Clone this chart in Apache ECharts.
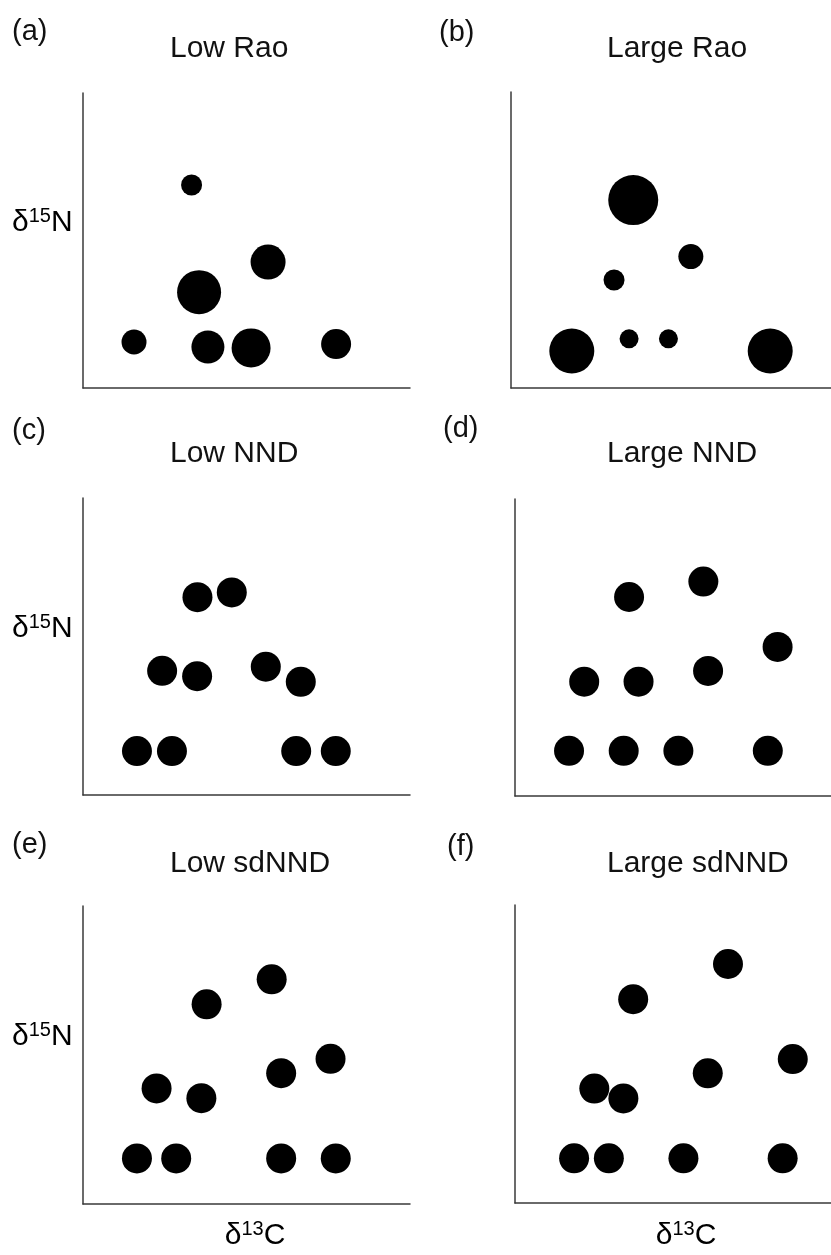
<!DOCTYPE html>
<html>
<head>
<meta charset="utf-8">
<script src="https://cdn.jsdelivr.net/npm/echarts@6/dist/echarts.min.js"></script>
<style>
html,body{margin:0;padding:0;background:#fff;}
#chart{width:831px;height:1255px;}
</style>
</head>
<body>
<div id="chart"></div>
<script>
// ---- data (axis units 0..10) ----
const panelTags = ['(a)', '(b)', '(c)', '(d)', '(e)', '(f)'];
const panelTitles = ['Low Rao', 'Large Rao', 'Low NND', 'Large NND', 'Low sdNND', 'Large sdNND'];
const yAxisName = ['δ', '15', 'N'];
const xAxisName = ['δ', '13', 'C'];

const aX = [3.32, 5.66, 3.55, 1.56, 3.82, 5.14, 7.74];
const aY = [6.88, 4.27, 3.25, 1.56, 1.39, 1.36, 1.49];
const aW = [21, 35, 44, 25, 33, 39, 30];

const bX = [3.82, 5.62, 3.22, 1.90, 3.69, 4.92, 8.10];
const bY = [6.35, 4.44, 3.65, 1.25, 1.66, 1.66, 1.25];
const bW = [50, 25, 21, 45, 19, 19, 45];

const cX = [3.50, 4.55, 2.42, 3.49, 5.59, 6.66, 1.65, 2.72, 6.52, 7.73];
const cY = [6.66, 6.82, 4.18, 4.00, 4.32, 3.81, 1.48, 1.48, 1.48, 1.48];
const cW = [30, 30, 30, 30, 30, 30, 30, 30, 30, 30];

const dX = [3.61, 5.96, 8.31, 2.19, 3.91, 6.11, 1.71, 3.44, 5.17, 8.00];
const dY = [6.70, 7.22, 5.02, 3.85, 3.85, 4.21, 1.52, 1.52, 1.52, 1.52];
const dW = [30, 30, 30, 30, 30, 30, 30, 30, 30, 30];

const eX = [3.78, 5.77, 7.57, 6.06, 2.25, 3.62, 1.65, 2.85, 6.06, 7.73];
const eY = [6.70, 7.54, 4.87, 4.39, 3.88, 3.55, 1.53, 1.53, 1.53, 1.53];
const eW = [30, 30, 30, 30, 30, 30, 30, 30, 30, 30];

const fX = [6.74, 3.74, 8.79, 6.10, 2.51, 3.43, 1.87, 2.97, 5.33, 8.47];
const fY = [8.02, 6.84, 4.83, 4.35, 3.84, 3.51, 1.50, 1.50, 1.50, 1.50];
const fW = [30, 30, 30, 30, 30, 30, 30, 30, 30, 30];

const allX = [aX, bX, cX, dX, eX, fX];
const allY = [aY, bY, cY, dY, eY, fY];
const allW = [aW, bW, cW, dW, eW, fW];

// ---- layout ----
const FONT = '"Liberation Sans", Arial, sans-serif';
const grids = [
  {left: 83,  top: 93,  width: 327, height: 295},
  {left: 511, top: 92,  width: 320, height: 296},
  {left: 83,  top: 498, width: 327, height: 297},
  {left: 515, top: 499, width: 316, height: 297},
  {left: 83,  top: 906, width: 327, height: 298},
  {left: 515, top: 905, width: 316, height: 298}
];
const tagPos = [[12, 32], [439, 33], [12, 431], [443, 429], [12, 845], [447, 847]];
const titlePos = [[170, 49], [607, 49], [170, 454], [607, 454], [170, 864], [607, 864]];
const yNamePos = [[12, 223], [12, 629], [12, 1037]];
const xNamePos = [[255, 1236], [686, 1236]];

const axisLine = {show: true, lineStyle: {color: '#3a3a3a', width: 1.5}};
const xAxes = [], yAxes = [], series = [];
grids.forEach((g, i) => {
  xAxes.push({gridIndex: i, type: 'value', min: 0, max: 10, axisLine: axisLine,
    axisTick: {show: false}, axisLabel: {show: false}, splitLine: {show: false}});
  yAxes.push({gridIndex: i, type: 'value', min: 0, max: 10, axisLine: axisLine,
    axisTick: {show: false}, axisLabel: {show: false}, splitLine: {show: false}});
  series.push({
    type: 'scatter', xAxisIndex: i, yAxisIndex: i,
    data: allX[i].map((x, k) => [x, allY[i][k], allW[i][k]]),
    symbol: 'circle',
    symbolSize: v => v[2],
    itemStyle: {color: '#000', opacity: 1},
    emphasis: {disabled: true},
    silent: true
  });
});

const graphics = [];
panelTags.forEach((t, i) => {
  graphics.push({type: 'text', left: tagPos[i][0], top: tagPos[i][1] - 15,
    style: {text: t, font: '29px ' + FONT, fill: '#111'}});
});
panelTitles.forEach((t, i) => {
  graphics.push({type: 'text', x: titlePos[i][0], y: titlePos[i][1],
    style: {text: t, font: '30px ' + FONT, fill: '#111', textVerticalAlign: 'middle'}});
});
const richStyle = {
  m: {fontSize: 30, fontFamily: FONT, color: '#111', lineHeight: 34},
  s: {fontSize: 20, fontFamily: FONT, color: '#111', verticalAlign: 'top', lineHeight: 20}
};
yNamePos.forEach(p => {
  graphics.push({type: 'text', x: p[0], y: p[1],
    style: {text: '{m|' + yAxisName[0] + '}{s|' + yAxisName[1] + '}{m|' + yAxisName[2] + '}',
      rich: richStyle, textVerticalAlign: 'middle', textAlign: 'left'}});
});
xNamePos.forEach(p => {
  graphics.push({type: 'text', x: p[0], y: p[1],
    style: {text: '{m|' + xAxisName[0] + '}{s|' + xAxisName[1] + '}{m|' + xAxisName[2] + '}',
      rich: richStyle, textVerticalAlign: 'middle', textAlign: 'center'}});
});

const chart = echarts.init(document.getElementById('chart'), null, {renderer: 'canvas'});
chart.setOption({
  backgroundColor: '#fff',
  animation: false,
  grid: grids,
  xAxis: xAxes,
  yAxis: yAxes,
  series: series,
  graphic: graphics
});
</script>
</body>
</html>
